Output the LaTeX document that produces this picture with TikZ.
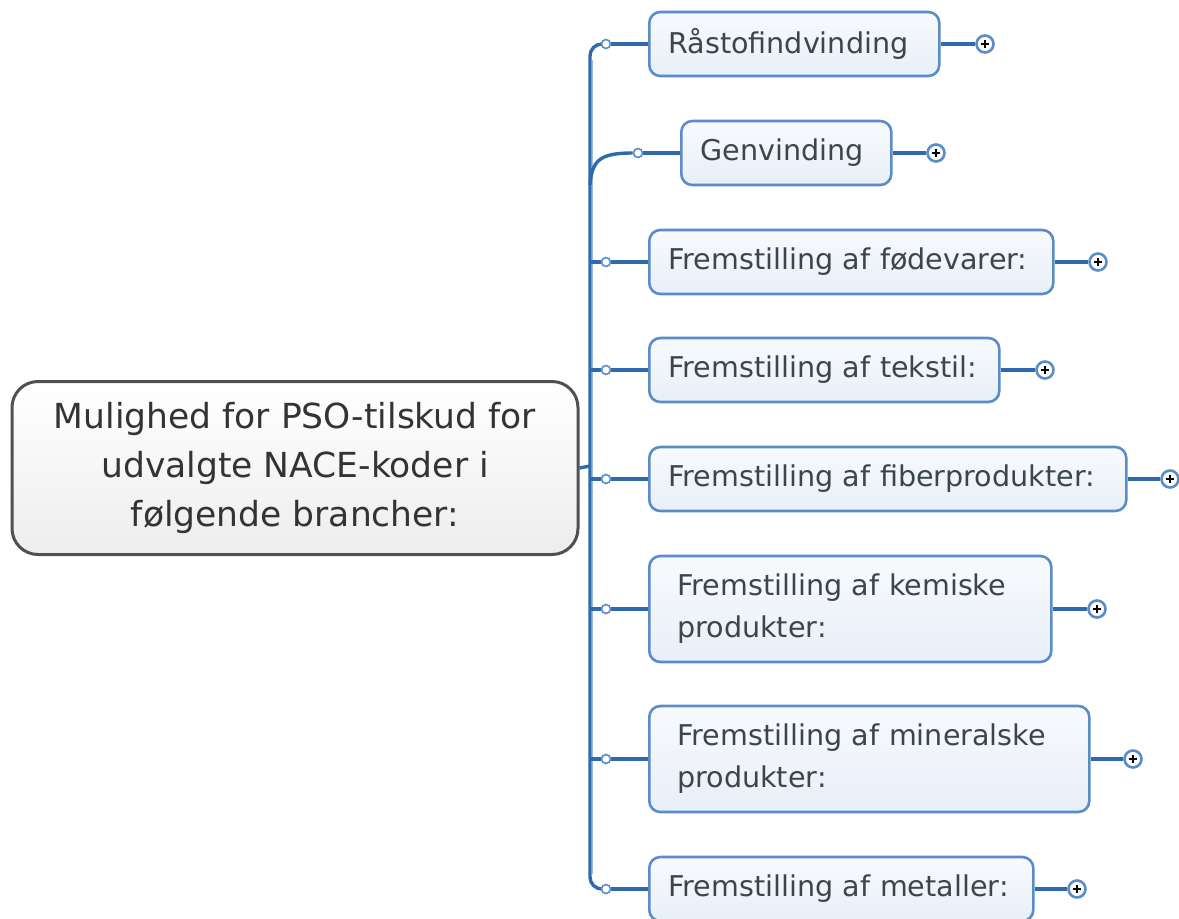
\documentclass[tikz,border=0pt]{standalone}
\usepackage{fontspec}
\setmainfont{DejaVu Sans}
\usetikzlibrary{backgrounds}
\definecolor{bdark}{HTML}{2E6AAD}
\definecolor{bmid}{HTML}{5A8DC6}
\definecolor{blight}{HTML}{9DBADB}
\definecolor{fillTop}{HTML}{F8FAFD}
\definecolor{fillBot}{HTML}{E8EFF8}
\definecolor{txt}{HTML}{3A454C}
\definecolor{rootBorder}{HTML}{505050}
\tikzset{
  branch/.style={draw=bmid, line width=2.6pt, rounded corners=11pt,
    top color=fillTop, bottom color=fillBot, anchor=west,
    text=txt, align=left, font=\fontsize{28.6}{42}\selectfont,
    inner xsep=19pt, inner ysep=0pt, minimum height=64pt},
  branchtwo/.style={branch, inner xsep=28pt, minimum height=106pt},
  rootbox/.style={draw=rootBorder, line width=3pt, rounded corners=26pt,
    top color=white, bottom color=black!7, text=black!80,
    align=center, font=\fontsize{34.5}{49}\selectfont,
    minimum width=566pt, minimum height=173pt, inner sep=0pt},
  conn/.style={draw=bdark, line width=3.4pt, rounded corners=12pt},
  jc/.style={circle, draw=bmid, fill=white, line width=1.6pt, minimum size=9pt, inner sep=0pt},
  tog/.style={circle, draw=bmid, fill=white, line width=2.6pt, minimum size=17pt, inner sep=0pt,
    path picture={\draw[black, line width=1.8pt]
      ([xshift=-4pt]path picture bounding box.center) -- ([xshift=4pt]path picture bounding box.center)
      ([yshift=-4pt]path picture bounding box.center) -- ([yshift=4pt]path picture bounding box.center);}},
}
\begin{document}
\begin{tikzpicture}[x=1pt,y=-1pt]
\useasboundingbox (0,0) rectangle (1179,919);

% root
\node[rootbox] (root) at (295,468) {Mulighed for PSO-tilskud for\\udvalgte NACE-koder i\\følgende brancher:};

% branch boxes
\node[branch, text width=252pt] (b1) at (648,44) {Råstofindvinding};
\node[branch, text width=172pt] (b2) at (680,153) {Genvinding};
\node[branch, text width=366pt] (b3) at (648,262) {Fremstilling af fødevarer:};
\node[branch, text width=312pt] (b4) at (648,370) {Fremstilling af tekstil:};
\node[branch, text width=439pt] (b5) at (648,479) {Fremstilling af fiberprodukter:};
\node[branchtwo, text width=346pt] (b6) at (648,609) {Fremstilling af kemiske\\produkter:};
\node[branchtwo, text width=384pt] (b7) at (648,759) {Fremstilling af mineralske\\produkter:};
\node[branch, text width=346pt] (b8) at (648,889) {Fremstilling af metaller:};

% junction circles
\node[jc] (c1) at (606,44) {};
\node[jc] (c2) at (638,153) {};
\node[jc] (c3) at (606,262) {};
\node[jc] (c4) at (606,370) {};
\node[jc] (c5) at (606,479) {};
\node[jc] (c6) at (606,609) {};
\node[jc] (c7) at (606,759) {};
\node[jc] (c8) at (606,889) {};

% toggles
\node[tog] (t1) at (985,44) {};
\node[tog] (t2) at (936,153) {};
\node[tog] (t3) at (1098,262) {};
\node[tog] (t4) at (1045,370) {};
\node[tog] (t5) at (1170,479) {};
\node[tog] (t6) at (1097,609) {};
\node[tog] (t7) at (1133,759) {};
\node[tog] (t8) at (1077,889) {};

\coordinate (sp) at (590,466);

\begin{pgfonlayer}{background}
% tree connectors
\draw[draw=blight, line width=1.4pt] (592.6,60) -- (592.6,874);
\draw[conn] (c1) -| (sp) |- (c8);
\draw[conn, rounded corners=0pt] (root.east) -- (sp);
\foreach \i in {3,...,7}{
  \draw[conn, rounded corners=0pt] (sp |- c\i) -- (c\i);
}
\draw[conn, rounded corners=0pt] (590,185) .. controls (592,160) and (600,153) .. (c2.west);
% box to box
\foreach \i in {1,...,8}{
  \draw[conn] (c\i) -- (b\i);
  \draw[conn] (b\i) -- (t\i);
}
\end{pgfonlayer}
\end{tikzpicture}
\end{document}
